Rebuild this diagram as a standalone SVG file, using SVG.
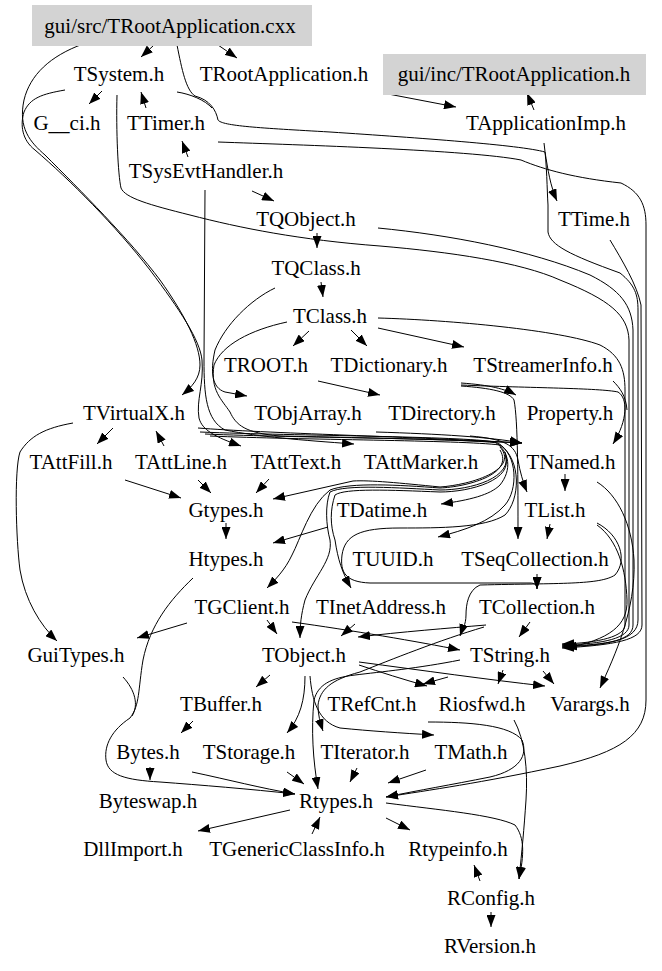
<svg xmlns="http://www.w3.org/2000/svg" width="662" height="971" viewBox="0 0 662 971" font-family="Liberation Serif">
<style>
.t{font-size:21px;text-anchor:middle;fill:#000}
.box{fill:#d3d3d3;stroke:none}
.e{fill:none;stroke:#000;stroke-width:1;marker-end:url(#ah)}
.l{fill:none;stroke:#000;stroke-width:1}
</style>
<defs>
<marker id="ah" viewBox="0 0 12 9" refX="12" refY="4.5" markerWidth="12" markerHeight="9" orient="auto" markerUnits="userSpaceOnUse"><path d="M0,0 L12,4.5 L0,9 z" fill="#000"/></marker>
</defs>
<rect width="662" height="971" fill="#fff"/>
<g id="connectors">
<path class="e" d="M153,46 L141,57"/>
<path class="e" d="M218,45 L237,58"/>
<path class="e" d="M383,93 L456,107"/>
<path class="e" d="M534,110 L527,93"/>
<path class="e" d="M102,91 L89,104"/>
<path class="e" d="M146,108 L141,92"/>
<path class="e" d="M188,157 L182,141"/>
<path class="e" d="M252,191 L274,201"/>
<path class="e" d="M317,233 L317,248"/>
<path class="e" d="M321,282 L323,297"/>
<path class="e" d="M309,331 L293,346"/>
<path class="e" d="M351,330 L367,346"/>
<path class="e" d="M378,328 L464,347"/>
<path class="e" d="M83,44 C50,56 30,75 24,100 C18,128 30,142 45,155 C80,190 130,240 160,280 C185,315 200,345 200,365 C200,378 192,387 182,395"/>
<path class="e" d="M65,90 C42,94 30,98 24,112 C20,125 22,140 35,150 C70,180 115,225 150,270 C180,310 200,340 202,360 C204,385 196,400 199,418 C202,430 215,437 241,446"/>
<path class="e" d="M177,45 C182,70 186,90 195,96 C210,100 216,110 218,120 C222,126 260,128 330,132 C420,138 520,145 545,152 C548,170 550,185 557,201"/>
<path class="l" d="M177,92 C190,94 205,100 212,108"/>
<path class="e" d="M544,143 C547,165 547,190 548,205 L548,232 C550,245 570,255 620,273 C635,285 638,295 638,310 L638,620 C638,640 610,645 562,647"/>
<path class="e" d="M218,142 C300,145 470,150 521,160 C545,170 575,178 621,183 C640,192 646,205 646,225 L646,700 C646,735 620,752 560,766 C480,783 430,790 386,797"/>
<path class="e" d="M610,240 C622,260 637,285 641,305 L642,625 C642,640 615,645 562,648"/>
<path class="e" d="M378,228 C450,235 530,250 590,275 C620,290 632,305 633,330 L633,625 C633,640 610,645 562,646"/>
<path class="e" d="M117,95 C116,130 118,175 121,188 C125,198 150,205 190,215 C240,228 300,240 380,246 C450,252 520,262 560,280 C610,300 628,315 629,340 L629,625 C629,638 605,644 562,645"/>
<path class="e" d="M378,318 C450,320 560,330 600,345 C620,355 625,370 625,390 L625,625 C625,636 600,643 562,644"/>
<path class="e" d="M318,381 L380,395"/>
<path class="e" d="M461,383 C490,385 505,389 516,395"/>
<path class="e" d="M461,385 C530,388 600,388 618,392 C628,398 628,420 613,444"/>
<path class="l" d="M613,381 C620,388 626,396 627,410"/>
<path class="e" d="M461,386 C490,388 510,392 514,400 C518,420 518,480 518,539"/>
<path class="e" d="M113,428 L97,444"/>
<path class="e" d="M164,446 L156,431"/>
<path class="e" d="M73,423 C45,428 30,436 20,452 C14,470 16,540 20,570 C25,600 40,625 57,641"/>
<path class="e" d="M198,428 C260,433 420,437 522,443"/>
<path class="e" d="M287,322 C250,330 222,345 214,365 C210,390 222,400 230,412 C236,425 245,433 280,436 C380,438 460,440 522,443"/>
<path class="e" d="M205,190 L204,360 C204,395 206,420 225,430 C260,437 300,440 354,444"/>
<path class="e" d="M275,288 C250,300 225,325 215,350 C210,372 212,388 225,392 L247,396"/>
<path class="e" d="M376,432 C440,434 490,437 522,443"/>
<path class="e" d="M470,436 C505,439 515,445 518,460 C520,472 523,482 527,492"/>
<path class="e" d="M200,432 C300,436 460,436 495,442 C510,452 512,470 500,485 C490,495 470,500 441,504"/>
<path class="e" d="M205,434 C300,438 460,438 498,443 C518,455 518,490 505,505 C490,522 465,530 438,537"/>
<path class="e" d="M210,436 C300,440 460,440 500,445 C522,460 520,500 505,515 C485,528 440,528 400,528 C360,528 345,535 342,555 C340,572 345,582 370,583 L530,583 C535,583 537,585 537,589"/>
<path class="e" d="M537,574 L537,589"/>
<path class="e" d="M125,480 L181,498"/>
<path class="e" d="M198,480 L211,493"/>
<path class="e" d="M269,479 L256,493"/>
<path class="e" d="M500,447 C520,470 470,485 440,487 C400,483 370,480 353,481 L273,499"/>
<path class="e" d="M500,450 C515,475 465,487 440,488 C400,485 350,482 330,490 C310,505 300,540 292,555 C285,570 275,580 267,588"/>
<path class="e" d="M505,452 C515,478 470,490 440,490 C400,488 345,484 330,492 C325,505 326,525 330,540 C333,560 315,575 305,600 C301,615 300,625 300,638"/>
<path class="e" d="M505,455 C515,480 470,492 440,492 C390,490 345,488 335,495 C330,510 330,525 335,540 C338,560 342,572 351,588"/>
<path class="e" d="M565,474 L565,491"/>
<path class="e" d="M226,523 L226,539"/>
<path class="e" d="M328,527 L273,543"/>
<path class="e" d="M550,524 L547,539"/>
<path class="e" d="M597,482 C618,495 632,525 634,560 C636,610 615,655 600,688"/>
<path class="e" d="M597,523 C620,535 628,560 615,575 C600,585 560,583 480,585 C468,590 466,605 466,615 C466,625 462,630 460,636"/>
<path class="e" d="M597,525 C618,540 626,570 627,600 C628,625 610,640 565,648"/>
<path class="e" d="M187,623 L137,638"/>
<path class="e" d="M267,620 L277,634"/>
<path class="e" d="M355,624 L341,636"/>
<path class="e" d="M486,625 C450,628 400,632 358,637"/>
<path class="e" d="M292,622 C350,630 420,642 460,650"/>
<path class="e" d="M530,622 L519,637"/>
<path class="e" d="M484,627 C440,640 390,660 360,672 C330,680 320,690 318,705 C318,715 320,722 323,731"/>
<path class="e" d="M460,660 C420,668 380,672 355,675 C330,678 318,685 314,700 C311,730 313,760 318,789"/>
<path class="e" d="M305,676 C305,700 300,718 287,733"/>
<path class="e" d="M310,676 C312,700 318,722 340,728 C370,731 400,733 434,735"/>
<path class="e" d="M270,675 L256,687"/>
<path class="e" d="M359,665 C380,672 405,680 427,686"/>
<path class="e" d="M448,677 L423,684"/>
<path class="e" d="M503,670 L498,684"/>
<path class="e" d="M359,662 C420,670 490,680 545,686"/>
<path class="e" d="M543,671 L554,684"/>
<path class="e" d="M193,721 L181,733"/>
<path class="e" d="M150,767 L150,780"/>
<path class="e" d="M192,772 C230,780 260,788 295,794"/>
<path class="e" d="M193,578 C170,600 150,625 143,660 C138,690 140,705 130,718 C112,730 104,745 106,760 C108,775 125,780 160,782 C200,785 250,789 295,794"/>
<path class="l" d="M123,677 C135,690 139,705 132,716"/>
<path class="e" d="M287,772 L304,784"/>
<path class="e" d="M357,768 L350,782"/>
<path class="e" d="M426,770 L388,783"/>
<path class="e" d="M428,722 C470,722 510,725 522,740 C528,755 520,770 490,777 C450,785 420,790 386,797"/>
<path class="e" d="M514,720 C525,740 528,770 526,800 C524,830 522,850 519,879"/>
<path class="e" d="M386,803 C440,810 495,815 515,825 C525,838 524,855 519,879"/>
<path class="e" d="M290,810 L198,831"/>
<path class="e" d="M312,834 L320,817"/>
<path class="e" d="M386,818 L410,830"/>
<path class="e" d="M480,881 L474,865"/>
<path class="e" d="M491,912 L491,927"/>
</g>
<g id="n_cxx"><rect class="box" x="32" y="5" width="280" height="41"/><text class="t" x="170" y="33">gui/src/TRootApplication.cxx</text></g>
<g id="n_TSystem"><text class="t" x="119" y="81">TSystem.h</text></g>
<g id="n_TRootApplication"><text class="t" x="284" y="81">TRootApplication.h</text></g>
<g id="n_guiinc"><rect class="box" x="383" y="54" width="263" height="41"/><text class="t" x="514" y="81">gui/inc/TRootApplication.h</text></g>
<g id="n_Gci"><text class="t" x="67" y="130">G__ci.h</text></g>
<g id="n_TTimer"><text class="t" x="166" y="130">TTimer.h</text></g>
<g id="n_TApplicationImp"><text class="t" x="546" y="130">TApplicationImp.h</text></g>
<g id="n_TSysEvtHandler"><text class="t" x="206" y="178">TSysEvtHandler.h</text></g>
<g id="n_TQObject"><text class="t" x="306" y="226">TQObject.h</text></g>
<g id="n_TTime"><text class="t" x="594" y="226">TTime.h</text></g>
<g id="n_TQClass"><text class="t" x="316" y="275">TQClass.h</text></g>
<g id="n_TClass"><text class="t" x="330" y="323">TClass.h</text></g>
<g id="n_TROOT"><text class="t" x="266" y="372">TROOT.h</text></g>
<g id="n_TDictionary"><text class="t" x="389" y="372">TDictionary.h</text></g>
<g id="n_TStreamerInfo"><text class="t" x="543" y="372">TStreamerInfo.h</text></g>
<g id="n_TVirtualX"><text class="t" x="134" y="420">TVirtualX.h</text></g>
<g id="n_TObjArray"><text class="t" x="308" y="420">TObjArray.h</text></g>
<g id="n_TDirectory"><text class="t" x="442" y="420">TDirectory.h</text></g>
<g id="n_Property"><text class="t" x="570" y="420">Property.h</text></g>
<g id="n_TAttFill"><text class="t" x="71" y="469">TAttFill.h</text></g>
<g id="n_TAttLine"><text class="t" x="181" y="469">TAttLine.h</text></g>
<g id="n_TAttText"><text class="t" x="296" y="469">TAttText.h</text></g>
<g id="n_TAttMarker"><text class="t" x="421" y="469">TAttMarker.h</text></g>
<g id="n_TNamed"><text class="t" x="571" y="469">TNamed.h</text></g>
<g id="n_Gtypes"><text class="t" x="226" y="517">Gtypes.h</text></g>
<g id="n_TDatime"><text class="t" x="382" y="517">TDatime.h</text></g>
<g id="n_TList"><text class="t" x="555" y="517">TList.h</text></g>
<g id="n_Htypes"><text class="t" x="226" y="566">Htypes.h</text></g>
<g id="n_TUUID"><text class="t" x="393" y="566">TUUID.h</text></g>
<g id="n_TSeqCollection"><text class="t" x="535" y="566">TSeqCollection.h</text></g>
<g id="n_TGClient"><text class="t" x="242" y="614">TGClient.h</text></g>
<g id="n_TInetAddress"><text class="t" x="381" y="614">TInetAddress.h</text></g>
<g id="n_TCollection"><text class="t" x="537" y="614">TCollection.h</text></g>
<g id="n_GuiTypes"><text class="t" x="76" y="662">GuiTypes.h</text></g>
<g id="n_TObject"><text class="t" x="304" y="662">TObject.h</text></g>
<g id="n_TString"><text class="t" x="510" y="662">TString.h</text></g>
<g id="n_TBuffer"><text class="t" x="221" y="711">TBuffer.h</text></g>
<g id="n_TRefCnt"><text class="t" x="372" y="711">TRefCnt.h</text></g>
<g id="n_Riosfwd"><text class="t" x="482" y="711">Riosfwd.h</text></g>
<g id="n_Varargs"><text class="t" x="590" y="711">Varargs.h</text></g>
<g id="n_Bytes"><text class="t" x="148" y="759">Bytes.h</text></g>
<g id="n_TStorage"><text class="t" x="249" y="759">TStorage.h</text></g>
<g id="n_TIterator"><text class="t" x="365" y="759">TIterator.h</text></g>
<g id="n_TMath"><text class="t" x="471" y="759">TMath.h</text></g>
<g id="n_Byteswap"><text class="t" x="148" y="808">Byteswap.h</text></g>
<g id="n_Rtypes"><text class="t" x="336" y="808">Rtypes.h</text></g>
<g id="n_DllImport"><text class="t" x="133" y="856">DllImport.h</text></g>
<g id="n_TGenericClassInfo"><text class="t" x="297" y="856">TGenericClassInfo.h</text></g>
<g id="n_Rtypeinfo"><text class="t" x="458" y="856">Rtypeinfo.h</text></g>
<g id="n_RConfig"><text class="t" x="491" y="905">RConfig.h</text></g>
<g id="n_RVersion"><text class="t" x="490" y="953">RVersion.h</text></g>
</svg>
